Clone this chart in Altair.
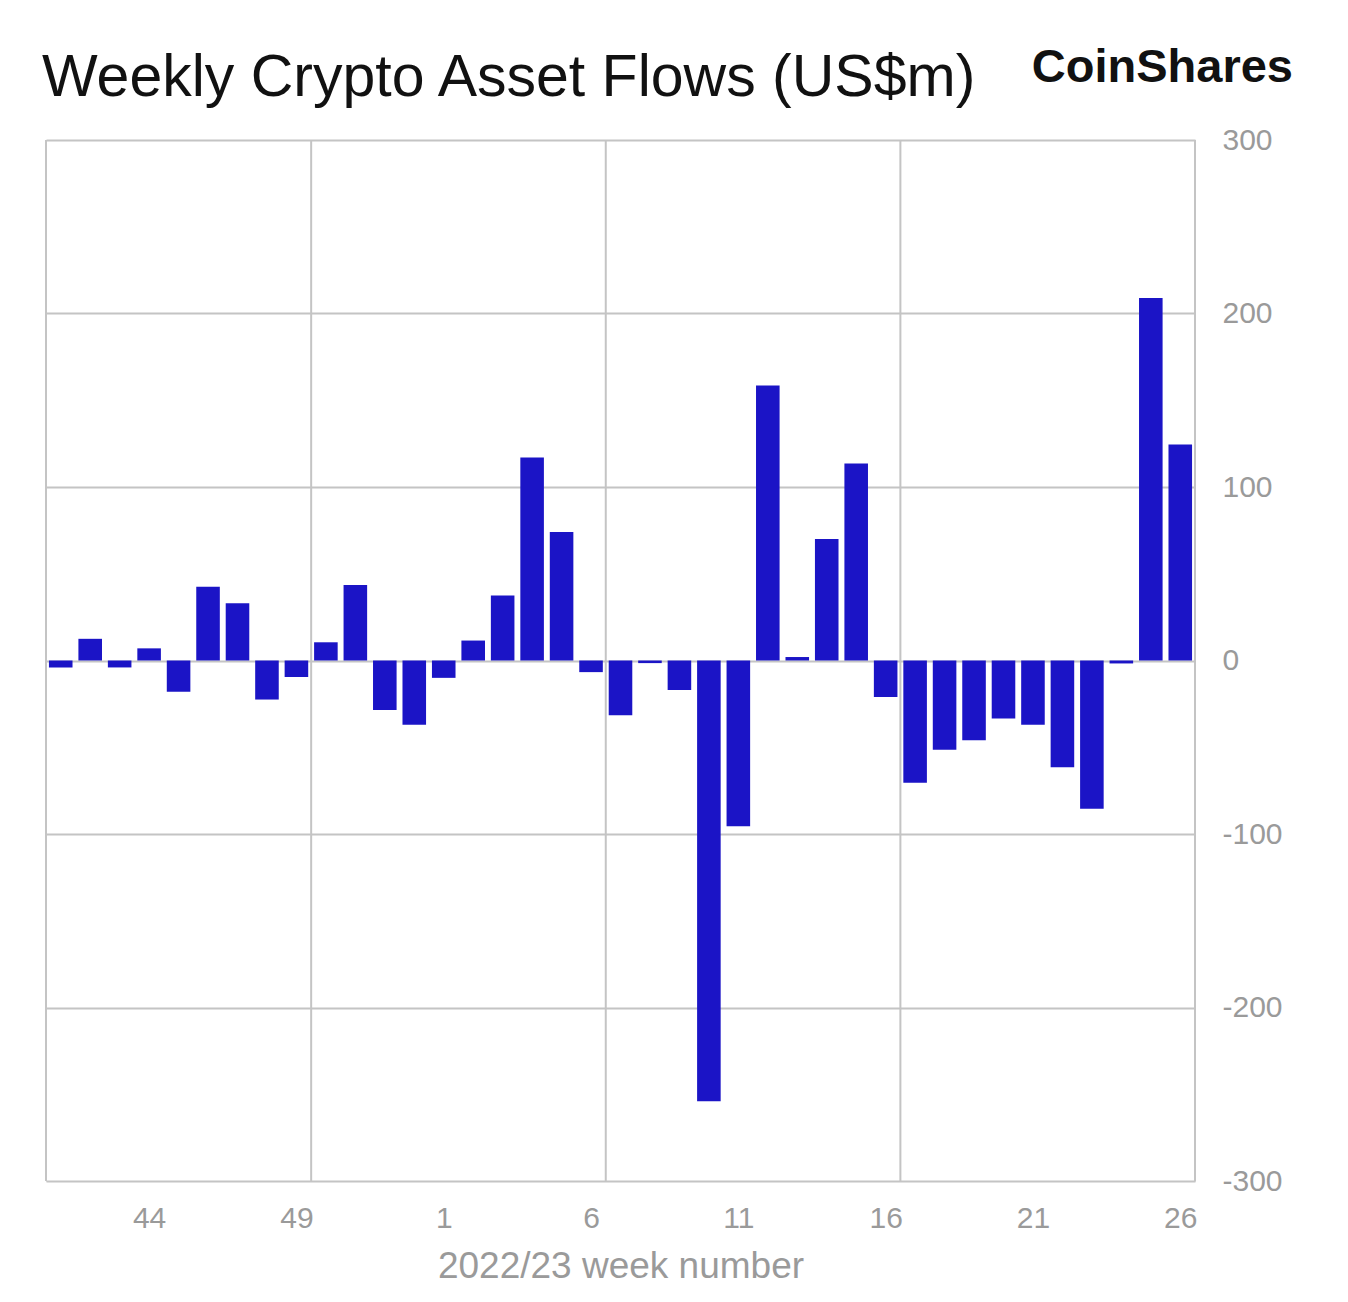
import altair as alt
import pandas as pd

# ---- data ----
weeks = ["41", "42", "43", "44", "45", "46", "47", "48", "49", "50", "51", "52", "53",
         "1", "2", "3", "4", "5", "6", "7", "8", "9", "10", "11", "12", "13",
         "14", "15", "16", "17", "18", "19", "20", "21", "22", "23", "24", "25", "26"]
flows = [-4, 12.5, -4, 7, -18, 42.5, 33, -22.5, -9.5, 10.5, 43.5, -28.5, -37,
         -10, 11.5, 37.5, 117, 74, -6.7, -31.5, -1.5, -17, -254, -95.5, 158.5, 2,
         70, 113.5, -21, -70.5, -51.5, -46, -33.5, -37, -61.5, -85.5, -1.7, 209, 124.5]
shown_weeks = ["44", "49", "1", "6", "11", "16", "21", "26"]
y_ticks = [-300, -200, -100, 0, 100, 200, 300]
vgrid_bounds = [0, 9, 19, 29, 39]   # category boundaries carrying vertical grid lines
title_text = "Weekly Crypto Asset Flows (US$m)"
logo_text = "CoinShares"

df = pd.DataFrame({"idx": list(range(len(flows))), "week": weeks, "flow": flows})
shown_pos = [weeks.index(w) + 0.5 for w in shown_weeks]
label_expr = "[" + ",".join("'" + w + "'" for w in weeks) + "][floor(datum.value)]"

FONT = "Liberation Sans"
GRID = "#c4c4c4"
LABEL = "#9a9a9a"
BAR = "#1b14c6"

xscale = alt.Scale(domain=[0, len(flows)], nice=False, zero=False, padding=0)
yscale = alt.Scale(domain=[-300, 300], nice=False, padding=0)

bars = alt.Chart(df).transform_calculate(
    x0="datum.idx + 0.1", x1="datum.idx + 0.9"
).mark_bar(color=BAR).encode(
    x=alt.X("x0:Q", scale=xscale,
            axis=alt.Axis(values=shown_pos, labelExpr=label_expr, grid=False, ticks=False,
                          domain=False, labelFontSize=30, labelColor=LABEL, labelFont=FONT,
                          labelPadding=22, title="2022/23 week number", titleFontSize=37,
                          titleColor=LABEL, titleFont=FONT, titleFontWeight="normal",
                          titlePadding=15)),
    x2="x1:Q",
    y=alt.Y("flow:Q", scale=yscale,
            axis=alt.Axis(orient="right", values=y_ticks, grid=True, gridColor=GRID,
                          gridWidth=2, ticks=False, domain=False, labelFontSize=30,
                          labelColor=LABEL, labelFont=FONT, labelPadding=27,
                          labelAlign="left", labelBaseline="middle",
                          labelExpr="'' + datum.value", title=None)),
    y2=alt.datum(0),
)

vrules = alt.Chart(pd.DataFrame({"b": vgrid_bounds})).mark_rule(
    color=GRID, strokeWidth=2
).encode(x=alt.X("b:Q", scale=xscale))

logo = alt.Chart(pd.DataFrame({"t": [logo_text]})).mark_text(
    align="right", baseline="alphabetic", fontSize=47, fontWeight="bold",
    font=FONT, color="#111111"
).encode(x=alt.value(1247), y=alt.value(-58), text="t:N")

title = alt.Chart(pd.DataFrame({"t": [title_text]})).mark_text(
    align="left", baseline="alphabetic", fontSize=59, fontWeight="normal",
    font=FONT, color="#111111"
).encode(x=alt.value(-4), y=alt.value(-44), text="t:N")

chart = alt.layer(vrules, bars, logo, title).properties(
    width=1149,
    height=1041,
    autosize=alt.AutoSizeParams(type="none"),
    padding={"left": 38, "top": 132, "right": 130, "bottom": 110},
).configure_view(strokeWidth=0).configure(background="white")

chart.save("out.html", embed_options={"renderer": "svg", "actions": False})
